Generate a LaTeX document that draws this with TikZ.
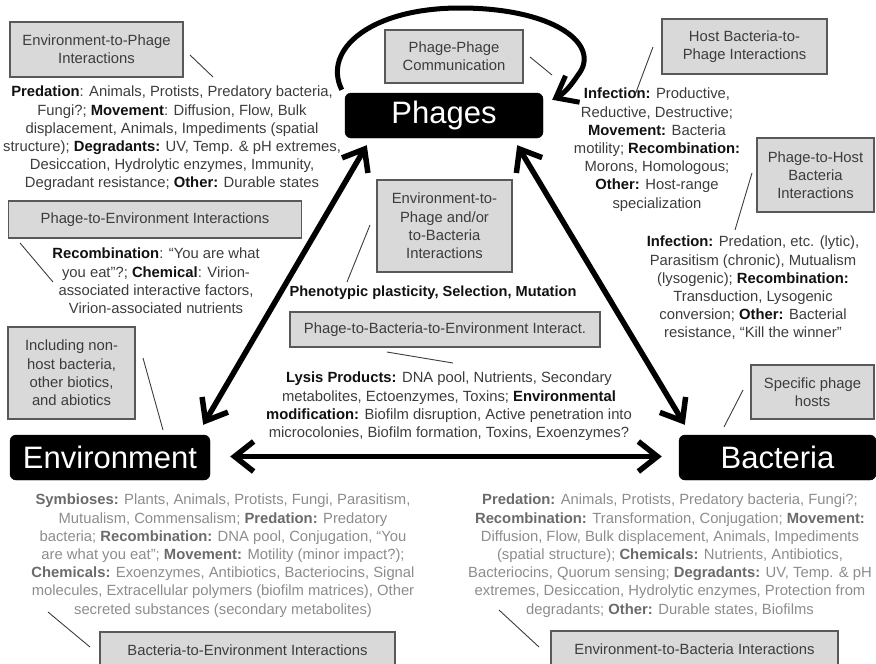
\documentclass[tikz,border=0pt]{standalone}
\usepackage{fontspec}
\setmainfont{Liberation Sans}
\usetikzlibrary{arrows.meta,calc}

\definecolor{boxfill}{HTML}{D9D9D9}
\definecolor{boxline}{HTML}{595959}
\definecolor{tdark}{HTML}{3C3C3C}
\definecolor{kdark}{HTML}{111111}
\definecolor{tgray}{HTML}{8C8C8C}
\definecolor{kgray}{HTML}{6B6B6B}

% bold keywords in the dark and the light text blocks
\newcommand{\kd}[1]{{\bfseries\color{kdark}#1}}
\newcommand{\kg}[1]{{\bfseries\color{kgray}#1}}

\tikzset{
  bignode/.style={draw=black, fill=black, rounded corners=6pt, text=white,
    inner sep=0pt, font=\fontsize{31}{36}\selectfont},
  graybox/.style={draw=boxline, fill=boxfill, line width=1.1pt, inner sep=0pt,
    align=center, text=tdark, font=\fontsize{14.8}{18.2}\selectfont},
  txt/.style={align=center, inner sep=0pt, anchor=north, text=tdark,
    font=\fontsize{14.8}{18.2}\selectfont},
  gtxt/.style={txt, text=tgray},
  leader/.style={draw=tdark, line width=0.9pt},
  barb/.tip={Straight Barb[length=19pt,width=30pt]},
  bigarrow/.style={line width=5.5pt, arrows={barb-barb}},
  looparrow/.style={line width=5pt, arrows={-barb}},
}

\begin{document}
\begin{tikzpicture}[x=1pt, y=-1pt]
\useasboundingbox (0,0) rectangle (876,664);

% main actors
\node[bignode, minimum width=198pt, minimum height=45pt] (phages) at (444,115.5) {Phages};
\node[bignode, minimum width=200pt, minimum height=45pt] (env) at (110,457.5) {Environment};
\node[bignode, minimum width=197pt, minimum height=45pt] (bact) at (777.5,457.5) {Bacteria};

% interaction labels
\node[graybox, minimum width=173pt, minimum height=55pt] (epbox) at (96.5,49.5) {Environment-to-Phage\\Interactions};
\node[graybox, minimum width=138pt, minimum height=53pt] (ppbox) at (454,56.5) {Phage-Phage\\Communication};
\node[graybox, minimum width=165pt, minimum height=55pt] (hbpbox) at (744.5,46.5) {Host Bacteria-to-\\Phage Interactions};
\node[graybox, minimum width=117pt, minimum height=74pt] (phbbox) at (815.5,175) {Phage-to-Host\\Bacteria\\Interactions};
\node[graybox, minimum width=293pt, minimum height=37pt] (pebox) at (155,219.5) {Phage-to-Environment Interactions};
\node[graybox, minimum width=135pt, minimum height=92pt] (epbbox) at (444.5,226) {Environment-to-\\Phage and/or\\to-Bacteria\\Interactions};
\node[graybox, minimum width=310pt, minimum height=35pt] (pbebox) at (445,329.5) {Phage-to-Bacteria-to-Environment Interact.};
\node[graybox, minimum width=127pt, minimum height=92pt] (inclbox) at (71.5,373) {Including non-\\host bacteria,\\other biotics,\\and abiotics};
\node[graybox, minimum width=123pt, minimum height=54pt] (hostbox) at (812.5,392) {Specific phage\\hosts};
\node[graybox, minimum width=295pt, minimum height=36pt] (bebox) at (247.5,650) {Bacteria-to-Environment Interactions};
\node[graybox, minimum width=287pt, minimum height=37pt] (ebbox) at (694.5,649.5) {Environment-to-Bacteria Interactions};

% description texts
\node[txt] (eptxt) at (172,86) {\kd{Predation}: Animals, Protists, Predatory bacteria,\\
Fungi?; \kd{Movement}: Diffusion, Flow, Bulk\\
displacement, Animals, Impediments (spatial\\
structure); \kd{Degradants:} UV, Temp. \& pH extremes,\\
Desiccation, Hydrolytic enzymes, Immunity,\\
Degradant resistance; \kd{Other:} Durable states};

\node[txt] (hbptxt) at (657,88) {\kd{Infection:} Productive,\\
Reductive, Destructive;\\
\kd{Movement:} Bacteria\\
motility; \kd{Recombination:}\\
Morons, Homologous;\\
\kd{Other:} Host-range\\
specialization};

\node[txt] (phbtxt) at (753,236) {\kd{Infection:} Predation, etc. (lytic),\\
Parasitism (chronic), Mutualism\\
(lysogenic); \kd{Recombination:}\\
Transduction, Lysogenic\\
conversion; \kd{Other:} Bacterial\\
resistance, “Kill the winner”};

\node[txt] (petxt) at (156,248) {\kd{Recombination}: “You are what\\
you eat”?; \kd{Chemical}: Virion-\\
associated interactive factors,\\
Virion-associated nutrients};

\node[txt, text=kdark, font=\bfseries\fontsize{14.6}{18.2}\selectfont] (epbtxt) at (433,286) {Phenotypic plasticity, Selection, Mutation};

\node[txt] (pbetxt) at (449,372) {\kd{Lysis Products:} DNA pool, Nutrients, Secondary\\
metabolites, Ectoenzymes, Toxins; \kd{Environmental}\\
\kd{modification:} Biofilm disruption, Active penetration into\\
microcolonies, Biofilm formation, Toxins, Exoenzymes?};

\node[gtxt] (betxt) at (223,494) {\kg{Symbioses:} Plants, Animals, Protists, Fungi, Parasitism,\\
Mutualism, Commensalism; \kg{Predation:} Predatory\\
bacteria; \kg{Recombination:} DNA pool, Conjugation, “You\\
are what you eat”; \kg{Movement:} Motility (minor impact?);\\
\kg{Chemicals:} Exoenzymes, Antibiotics, Bacteriocins, Signal\\
molecules, Extracellular polymers (biofilm matrices), Other\\
secreted substances (secondary metabolites)};

\node[gtxt] (ebtxt) at (670,494) {\kg{Predation:} Animals, Protists, Predatory bacteria, Fungi?;\\
\kg{Recombination:} Transformation, Conjugation; \kg{Movement:}\\
Diffusion, Flow, Bulk displacement, Animals, Impediments\\
(spatial structure); \kg{Chemicals:} Nutrients, Antibiotics,\\
Bacteriocins, Quorum sensing; \kg{Degradants:} UV, Temp. \& pH\\
extremes, Desiccation, Hydrolytic enzymes, Protection from\\
degradants; \kg{Other:} Durable states, Biofilms};

% leader lines from labels to their texts
\draw[leader] (190,55) coordinate (l1a) -- (213,77) coordinate (l1b);
\draw[leader] (530,57) coordinate (l2a) -- (552,75) coordinate (l2b);
\draw[leader] (653,47) coordinate (l3a) -- (635,95) coordinate (l3b);
\draw[leader] (752,173) coordinate (l4a) -- (735,230) coordinate (l4b);
\draw[leader] (20,243) coordinate (l5a) -- (53,282) coordinate (l5b);
\draw[leader] (370,225) coordinate (l6a) -- (347,282) coordinate (l6b);
\draw[leader] (387,352) coordinate (l7a) -- (453,363) coordinate (l7b);
\draw[leader] (143,358) coordinate (l8a) -- (163,430) coordinate (l8b);
\draw[leader] (743,390) coordinate (l9a) -- (724,427) coordinate (l9b);
\draw[leader] (48,612) coordinate (l10a) -- (90,647) coordinate (l10b);
\draw[leader] (499,610) coordinate (l11a) -- (539,647) coordinate (l11b);

% interaction arrows
\draw[bigarrow] ($(phages.south west)+(22,7)$) -- ($(env.north east)+(-7,-10)$);
\draw[bigarrow] ($(phages.south east)+(-26,7)$) -- ($(bact.north west)+(6,-10)$);
\draw[bigarrow] ($(env.east)+(20,-1)$) -- ($(bact.west)+(-17,-1)$);

% phage-phage self loop
\draw[looparrow] ($(phages.north west)+(-3,-3)$)
  .. controls (322,50) and (370,8) .. (460,8)
  .. controls (555,8) and (602,45) .. (578,75)
  .. controls (572,84) and (565,93) .. ($(phages.north east)+(9,7)$);
\end{tikzpicture}
\end{document}
